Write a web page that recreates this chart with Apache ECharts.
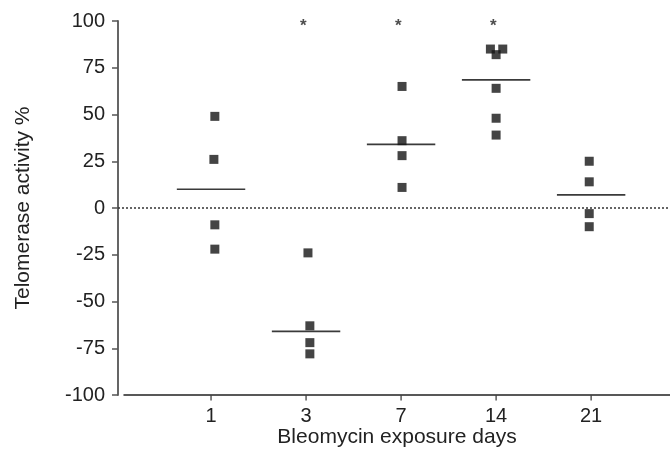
<!DOCTYPE html>
<html><head><meta charset="utf-8">
<script src="https://cdn.jsdelivr.net/npm/echarts@6/dist/echarts.min.js"></script>
<style>html,body{margin:0;padding:0;background:#fff}#c{width:670px;height:449px}</style>
</head><body><div id="c"></div>
<script>
var categories = ['1', '3', '7', '14', '21'];
var yTicks = [-100, -75, -50, -25, 0, 25, 50, 75, 100];
var groupValues = [
  [49, 26, -9, -22],
  [-24, -63, -72, -78],
  [65, 36, 28, 11],
  [85, 85, 82, 64, 48, 39],
  [25, 14, -3, -10]
];
var groupJitter = [
  [0.04, 0.03, 0.04, 0.04],
  [0.02, 0.04, 0.04, 0.04],
  [0.01, 0.01, 0.01, 0.01],
  [-0.06, 0.07, 0.0, 0.0, 0.0, 0.0],
  [-0.02, -0.02, -0.02, -0.02]
];
var groupMeans = [10, -66, 34, 68.5, 7];
var significant = [false, true, true, true, false];
var starValue = 97;

var font = 'Liberation Sans, Arial, sans-serif';
var txt = '#222';
var half = 0.36;

var series = [];
var pts = [];
categories.forEach(function (c, i) {
  groupValues[i].forEach(function (v, j) { pts.push([i + 1 + groupJitter[i][j], v]); });
});
// zero line
series.push({
  type: 'line', xAxisIndex: 0, yAxisIndex: 0, symbol: 'none', silent: true,
  data: [[0, 0], [1, 0]],
  lineStyle: { color: '#333', width: 1.3, type: [2, 2] }
});
categories.forEach(function (c, i) {
  series.push({
    type: 'line', xAxisIndex: 1, yAxisIndex: 1, symbol: 'none', silent: true,
    data: [[i + 1 - half, groupMeans[i]], [i + 1 + half, groupMeans[i]]],
    lineStyle: { color: '#3a3a3a', width: 1.6 }
  });
});
// x-axis tick marks at each category position
series.push({
  type: 'scatter', xAxisIndex: 1, yAxisIndex: 1, symbol: 'rect', symbolSize: [1.4, 5],
  symbolOffset: [0, 3], clip: false, silent: true,
  itemStyle: { color: '#222' },
  data: categories.map(function (c, i) { return [i + 1, yTicks[0]]; })
});
series.push({
  type: 'scatter', xAxisIndex: 1, yAxisIndex: 1, symbol: 'rect', symbolSize: 9,
  itemStyle: { color: '#151515' }, data: pts, z: 5
});
var stars = [];
categories.forEach(function (c, i) { if (significant[i]) stars.push([i + 1 - 0.03, starValue]); });
series.push({
  type: 'scatter', xAxisIndex: 1, yAxisIndex: 1, symbolSize: 0, data: stars,
  label: { show: true, position: 'inside', formatter: '*', color: txt, fontSize: 17, fontWeight: 'bold', fontFamily: font }
});

var chart = echarts.init(document.getElementById('c'));
chart.setOption({
  animation: false,
  grid: [
    { left: 118, right: 0, top: 21, bottom: 54, outerBoundsMode: 'none', containLabel: false },
    { left: 124, right: 0, top: 21, bottom: 54, outerBoundsMode: 'none', containLabel: false },
    { left: 163.5, right: 31.5, top: 21, bottom: 54, outerBoundsMode: 'none', containLabel: false }
  ],
  xAxis: [
    { gridIndex: 0, type: 'value', min: 0, max: 1, show: false },
    {
      gridIndex: 1, type: 'value', min: 0.084, max: 5.83,
      splitLine: { show: false },
      axisLine: { show: true, onZero: false, lineStyle: { color: '#222', width: 1.5 } },
      axisTick: { show: false },
      axisLabel: { show: false },
      name: 'Bleomycin exposure days', nameLocation: 'middle', nameGap: 32,
      nameTextStyle: { color: txt, fontSize: 21, fontFamily: font }
    },
    {
      gridIndex: 2, type: 'category', data: categories, boundaryGap: true,
      axisLine: { show: false, onZero: false },
      axisTick: { show: false },
      axisLabel: { show: true, margin: 11, color: txt, fontSize: 20, fontFamily: font }
    }
  ],
  yAxis: [
    {
      gridIndex: 0, type: 'value', min: yTicks[0], max: yTicks[yTicks.length - 1], interval: 25,
      splitLine: { show: false },
      axisLine: { show: true, lineStyle: { color: '#555', width: 1.8 } },
      axisTick: { show: true, length: 6, lineStyle: { color: '#555', width: 1.5 } },
      axisLabel: { margin: 13, color: txt, fontSize: 20, fontFamily: font },
      name: 'Telomerase activity %', nameLocation: 'middle', nameGap: 84, nameRotate: 90,
      nameTextStyle: { color: txt, fontSize: 21, fontFamily: font }
    },
    { gridIndex: 1, type: 'value', min: -100, max: 100, show: false },
    { gridIndex: 2, type: 'value', min: -100, max: 100, show: false }
  ],
  series: series
});
</script></body></html>
